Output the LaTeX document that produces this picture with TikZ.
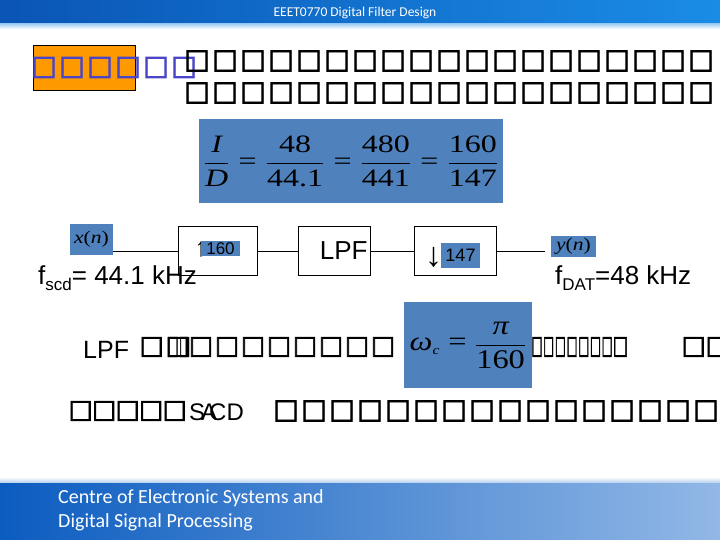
\documentclass[tikz,border=0pt]{standalone}
\usepackage{fontspec}
\usepackage{graphicx}
\setmainfont{Liberation Sans}
\newfontfamily\serif{Liberation Serif}
\newfontfamily\carlito{Carlito}
\newfontface\tofufont{DejaVu Sans}[FakeBold=2.8]
\definecolor{hdrL}{HTML}{0A55B5}
\definecolor{hdrR}{HTML}{1A8CE6}
\definecolor{ftL}{HTML}{0B5CC0}
\definecolor{ftM}{HTML}{5A92D6}
\definecolor{ftR}{HTML}{92B8E6}
\definecolor{mathblue}{HTML}{4F81BD}
\definecolor{tagorange}{HTML}{FF9900}
\definecolor{tofublue}{HTML}{4B46C8}
\newcommand\tfg[2]{\kern\dimexpr -#1pt*190/1000\relax\resizebox{\dimexpr #1pt*127/100\relax}{\dimexpr #2pt*92/100\relax}{\fontsize{20}{20}\selectfont\tofufont □}\kern\dimexpr -#1pt*190/1000\relax}
\newcommand\tf{\makebox[28pt][l]{\tfg{20}{19}}}
\newcommand\tfc{\makebox[26pt][l]{\tfg{19}{18}}}
\newcommand\tfd{\makebox[23.5pt][l]{\tfg{19}{18}}}
\newcommand\ntf{\makebox[11.7pt][l]{\tfg{8.5}{18}}}
\newcommand\sr[1]{\hbox{\serif #1}}
\newcommand\si[1]{\hbox{\serif\itshape #1}}
\newcommand\seq{\mathrel{\hbox{\serif =}}}
\tikzset{
  blk/.style={draw=black, line width=0.8pt, inner sep=2pt, minimum height=49pt},
  mathbox/.style={fill=mathblue, inner sep=0pt},
  tofurow/.style={anchor=west, inner sep=0pt},
  wire/.style={line width=0.8pt}
}
\begin{document}
\begin{tikzpicture}[x=1pt,y=-1pt]
\useasboundingbox (0,0) rectangle (720,540);
% header
\shade[left color=hdrL, right color=hdrR] (0,0) rectangle (720,24);
\shade[top color=hdrR!40, bottom color=white] (0,24) rectangle (720,29);
\node[font=\carlito\fontsize{13.5}{15}\selectfont, text=white] (title) at (355,12.5) {EEET0770 Digital Filter Design};
% footer
\shade[top color=white, bottom color=ftR!70] (0,477) rectangle (720,483);
\shade[left color=ftL, middle color=ftM, right color=ftR] (0,483) rectangle (720,540);
\node[font=\carlito\fontsize{20}{24}\selectfont, text=white, align=left, anchor=north west, inner sep=0pt] (foot) at (58,489) {Centre of Electronic Systems and\\Digital Signal Processing};
% heading tag
\node[draw=black, line width=0.8pt, fill=tagorange, minimum width=102pt, minimum height=45pt, inner sep=0pt, anchor=north west] (tag) at (33,45) {};
\node[tofurow, text=tofublue] (bluerow) at (35,67.5) {\foreach\i in {1,...,6}{\tf}};
\node[tofurow] (row1) at (188,61) {\foreach\i in {1,...,19}{\tf}};
\node[tofurow] (row2) at (188,93) {\foreach\i in {1,...,19}{\tf}};
% ratio formula
\node[mathbox, minimum width=304pt, minimum height=84pt] (ratio) at (351,161)
  {\serif\fontsize{25}{30}\selectfont\scalebox{1.28}[1]{$\displaystyle\frac{\si{I}}{\si{D}}\seq\frac{\sr{48}}{\sr{44.1}}\seq\frac{\sr{480}}{\sr{441}}\seq\frac{\sr{160}}{\sr{147}}$}};
% block diagram
\node[mathbox, minimum width=43pt, minimum height=31pt] (xn) at (91.5,239.5)
  {\serif\fontsize{18}{20}\selectfont\scalebox{1.2}[1]{\itshape x\upshape(\itshape n\upshape)}};
\node[blk, minimum width=79pt] (up) at (217.5,251) {};
\node[font=\fontsize{26}{26}\selectfont, inner sep=0pt] (uparrow) at (201,250) {↑};
\node[mathbox, minimum width=39pt, minimum height=15pt, font=\fontsize{17}{17}\selectfont] (n160) at (220.5,248.5) {160};
\node[blk, minimum width=72pt, text width=67pt, align=right, font=\fontsize{26}{26}\selectfont] (lpf) at (334,251) {LPF};
\node[blk, minimum width=82pt] (down) at (455,251) {};
\node[font=\fontsize{34}{34}\selectfont, inner sep=0pt] (downarrow) at (433.5,257) {↓};
\node[mathbox, minimum width=39pt, minimum height=25pt, font=\fontsize{18}{18}\selectfont] (n147) at (460.5,255.5) {147};
\node[mathbox, minimum width=45pt, minimum height=21pt] (yn) at (573.5,246.5)
  {\serif\fontsize{18}{20}\selectfont\scalebox{1.2}[1]{\itshape y\upshape(\itshape n\upshape)}};
\draw[wire] (xn.east |- up.west) -- (up.west);
\draw[wire] (up.east) -- (lpf.west);
\draw[wire] (lpf.east) -- (down.west);
\draw[wire, shorten >=6pt] (down.east) -- (down.east -| yn.west);
\node[anchor=base west, inner sep=0pt, font=\fontsize{26}{26}\selectfont] (fscd) at (38,284)
  {f\raisebox{-6pt}{\fontsize{17}{17}\selectfont scd}= 44.1 kHz};
\node[anchor=base west, inner sep=0pt, font=\fontsize{26}{26}\selectfont] (fdat) at (555,284)
  {f\raisebox{-6pt}{\fontsize{17}{17}\selectfont DAT}=48 kHz};
% cutoff line
\node[anchor=base west, inner sep=0pt, font=\fontsize{25}{25}\selectfont] (lpftext) at (83,358) {LPF};
\node[tofurow] (row3a) at (143,347) {\tfc\makebox[0pt][l]{\tfg{19}{18}}\ntf\ntf\foreach\i in {1,...,8}{\tfc}};
\node[mathbox, minimum width=128pt, minimum height=86pt] (omega) at (468,345)
  {\serif\fontsize{27}{32}\selectfont\scalebox{1.2}[1]{$\displaystyle\si{ω}_{\hbox{\serif\fontsize{13}{13}\selectfont\itshape c}}\seq\frac{\si{π}}{\sr{160}}$}};
\node[tofurow] (row3b) at (533,347) {\foreach\i in {1,...,7}{\ntf}\makebox[13pt][l]{\tfg{12}{18}}};
\node[tofurow] (row3c) at (685,347) {\makebox[24pt][l]{\tfg{19}{18}}\tfg{19}{18}};
\node[tofurow] (row4a) at (72,411) {\foreach\i in {1,...,5}{\tfd}};
\node[anchor=base west, inner sep=0pt, font=\fontsize{24}{24}\selectfont] (sacd) at (189,420) {S\kern-4pt A\kern-8pt CD};
\node[tofurow] (row4b) at (277,411) {\foreach\i in {1,...,16}{\tf}};
\end{tikzpicture}
\end{document}
